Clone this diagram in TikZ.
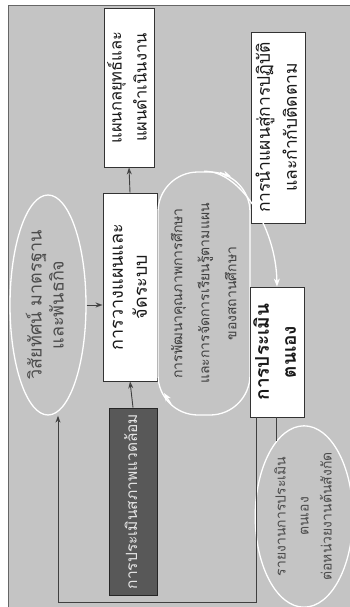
\documentclass[tikz,border=0pt]{standalone}
\usepackage{fontspec}
\newfontfamily\thai[Script=Thai]{Loma}
\usetikzlibrary{shapes.geometric,arrows.meta,decorations.markings}
\definecolor{bg}{RGB}{196,196,196}
\definecolor{dk}{RGB}{88,88,88}
\newcommand\vtext[3]{\rotatebox{90}{\fontsize{#1}{#2}\selectfont\begin{tabular}{@{}c@{}}#3\end{tabular}}}
\begin{document}
\begin{tikzpicture}[x=1pt,y=-1pt,
  box/.style={rectangle, draw=black!80, line width=0.9pt, fill=white, inner sep=0pt, font=\thai, text=black!90},
  oval/.style={ellipse, draw=white, line width=1.3pt, inner sep=0pt, font=\thai, text=black!70},
  conn/.style={draw=black!75, line width=0.9pt, -{Stealth[length=7pt,width=5pt,fill=white]}},
  wconn/.style={draw=white, line width=1.3pt, -{Stealth[length=8pt,width=6pt]}},
]
\useasboundingbox (0,0) rectangle (350,607);
\fill[white] (0,0) rectangle (350,607);
\fill[bg] (8,5) rectangle (350,607);
\draw[black!60, line width=0.8pt] (8,607) -- (8,5) -- (350,5);

\node[box, minimum width=48pt, minimum height=159pt] (strat) at (129,87.5)
  {\vtext{16.5}{25}{แผนกลยุทธ์และ\\แผนดำเนินงาน}};
\node[box, minimum width=54pt, minimum height=188pt] (plan) at (130,287)
  {\vtext{18}{24}{การวางแผนและ\\จัดระบบ}};
\node[box, fill=dk, draw=black!85, text=white!90!black, minimum width=48pt, minimum height=187pt] (env) at (133,501.5)
  {\vtext{15.5}{20}{การประเมินสภาพแวดล้อม}};
\node[oval, minimum width=76pt, minimum height=220pt] (vis) at (48,305)
  {\vtext{18}{22}{วิสัยทัศน์ มาตรฐาน\\และพันธกิจ}};
\node[rectangle, rounded corners=40pt, draw=white, line width=1.3pt, inner sep=0pt, font=\thai, text=black!75,
  minimum width=92pt, minimum height=243pt] (mid) at (204,293.5)
  {\vtext{14}{27}{การพัฒนาคุณภาพการศึกษา\\และการจัดการเรียนรู้ตามแผน\\ของสถานศึกษา}};
\node[box, minimum width=50pt, minimum height=191pt] (impl) at (278,127.5)
  {\vtext{17.5}{27}{การนำแผนสู่การปฏิบัติ\\และกำกับติดตาม}};
\node[box, minimum width=50pt, minimum height=130pt] (se) at (277,352)
  {\vtext{19}{27}{\bfseries การประเมิน\\\bfseries ตนเอง}};
\node[oval, minimum width=84pt, minimum height=177pt] (rep) at (304,516.5)
  {\vtext{14}{23}{รายงานการประเมิน\\ตนเอง\\ต่อหน่วยงานต้นสังกัด}};

% connectors
\draw[conn] (env.north) -- (plan.south);
\draw[conn] (plan.north) -- (strat.south);
\draw[conn] (vis.east) -- (plan.west |- vis.east);
\coordinate (fbA) at (256,602);
\coordinate (fbB) at (58,602);
\draw[conn] (se.south -| fbA) -- (fbA) -- (fbB) -- (fbB |- vis.south);
\draw[draw=black!75, line width=0.9pt] (se.south -| rep.110) -- (rep.110);
% loop arrows on the middle oval
\draw[wconn] (mid.north) .. controls (238,170) and (276,225) .. (se.north);
\draw[white, line width=1.3pt, -{Stealth[length=8pt,width=6pt]}] (220,172.5) -- (231,176.5);
\draw[white, line width=1.3pt, -{Stealth[length=8pt,width=6pt]}] (171,404) -- (164,393);
\end{tikzpicture}
\end{document}
